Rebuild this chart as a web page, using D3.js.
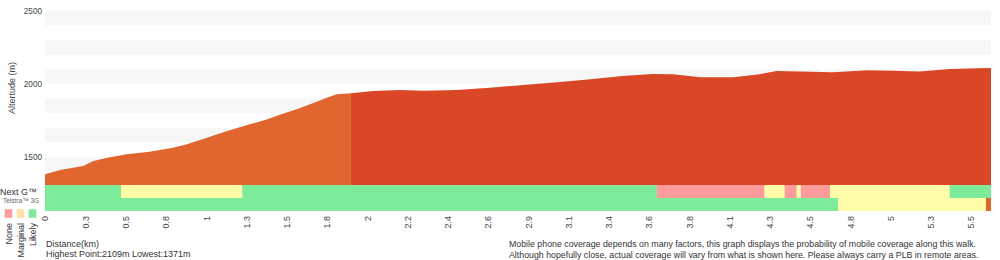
<!DOCTYPE html>
<html>
<head>
<meta charset="utf-8">
<script src="https://cdn.jsdelivr.net/npm/d3@7"></script>
<style>
  body { margin: 0; background: #fff; }
  svg { display: block; font-family: "Liberation Sans", Arial, Helvetica, sans-serif; }
</style>
</head>
<body>
<svg id="chart" width="1000" height="260"></svg>
<script>
"use strict"

// elevation profile: position along the walk (sample index) and altitude in metres
const profilePos  = [0, 1.5, 3.8, 4.8, 6.2, 8.1, 10.4, 12.7, 14.1, 16.1, 18.1, 20.1, 22.1, 23.4, 25.3, 26.6, 28.0, 29.0, 30.4,
                     32.6, 35.3, 37.6, 40.9, 44.2, 47.5, 50.9, 54.2, 57.4, 60.4, 62.4, 65.1, 68.4, 71.0, 72.7, 75.0,
                     78.3, 81.7, 84.3, 86.9, 89.9, 92.6, 94];
const profileElev = [1380, 1409, 1437, 1471, 1494, 1517, 1535, 1562, 1586, 1631, 1677, 1718, 1757, 1791, 1833, 1867, 1905, 1929, 1936,
                     1951, 1958, 1953, 1958, 1974, 1992, 2011, 2032, 2054, 2068, 2066, 2045, 2045, 2066, 2088, 2086,
                     2080, 2093, 2091, 2086, 2102, 2108, 2109];
// where the first (orange) section of the walk ends
const sectionBreak = 30.4;

// x axis tick labels (km), one every 4 samples
const tickLabels = ["0", "0.3", "0.5", "0.8", "1", "1.3", "1.5", "1.8", "2", "2.2", "2.4", "2.6",
                    "2.9", "3.1", "3.4", "3.6", "3.8", "4.1", "4.3", "4.5", "4.8", "5", "5.3", "5.5"];

// coverage rows: segment start positions and coverage level (segment ends where the next starts)
const nextGStarts = [0, 7.55, 19.6, 60.8, 71.5, 73.5, 74.7, 75.1, 78.0, 89.9];
const nextGLevels = ["likely", "marginal", "likely", "none", "marginal", "none", "marginal", "none", "marginal", "likely"];
const g3Starts = [0, 78.8, 93.5];
const g3Levels = ["likely", "marginal", "unknown"];

const legendLevels = ["None", "Marginal", "Likely"];

const coverColor = { none: "#ff9b9b", marginal: "#fffda8", likely: "#7deb9a", unknown: "#e0652f" };
const legendColor = ["#ff9b9b", "#ffe2a6", "#7deb9a"];

const svg = d3.select("#chart");

const x = d3.scaleLinear().domain([0, 94]).range([45, 991]);
const y = d3.scaleLinear().domain([1300, 2500]).range([186, 11]);

//---- background stripes every 100m ----//
const stripes = d3.range(2500, 1300, -200);
svg.append("g").selectAll("rect")
    .data(stripes)
    .join("rect")
    .attr("x", x(0))
    .attr("width", x(94) - x(0))
    .attr("y", d => y(d))
    .attr("height", d => y(d - 100) - y(d))
    .attr("fill", "#f7f7f7");

//---- elevation areas ----//
const points = profilePos.map((p, i) => ({ pos: p, elev: profileElev[i] }));
const area = d3.area()
    .x(d => x(d.pos))
    .y0(y(1300))
    .y1(d => y(d.elev));

svg.append("path")
    .datum(points.filter(d => d.pos >= sectionBreak))
    .attr("d", area)
    .attr("fill", "#da4727");

svg.append("path")
    .datum(points.filter(d => d.pos <= sectionBreak))
    .attr("d", area)
    .attr("fill", "#e0652f");

//---- coverage rows ----//
const row = d3.scaleBand().domain(["nextg", "3g"]).range([185, 211]);

function segments(starts, levels) {
    return starts.map((s, i) => ({
        start: s,
        end: i + 1 < starts.length ? starts[i + 1] : 94,
        level: levels[i]
    }));
}

[["nextg", segments(nextGStarts, nextGLevels)], ["3g", segments(g3Starts, g3Levels)]].forEach(([key, segs]) => {
    svg.append("g").selectAll("rect")
        .data(segs)
        .join("rect")
        .attr("x", d => x(d.start))
        .attr("width", d => x(d.end) - x(d.start))
        .attr("y", row(key))
        .attr("height", row.bandwidth())
        .attr("fill", d => coverColor[d.level]);
});

//---- x axis ----//
const xAxis = d3.axisBottom(x)
    .tickValues(tickLabels.map((t, i) => i * 4))
    .tickFormat((d, i) => tickLabels[i])
    .tickSize(0);

const gx = svg.append("g")
    .attr("transform", "translate(0,214)")
    .call(xAxis);
gx.select(".domain").remove();
gx.selectAll("text")
    .attr("transform", "rotate(-90)")
    .attr("x", -2)
    .attr("y", 0)
    .attr("dy", "0.33em")
    .style("text-anchor", "end")
    .attr("fill", "#444")
    .style("font-size", "9px")
    .style("font-family", "\"Liberation Sans\", Arial, sans-serif");

//---- y axis ----//
const yAxis = d3.axisLeft(y)
    .tickValues([1500, 2000, 2500])
    .tickFormat(d3.format("d"))
    .tickSize(0);
const gy = svg.append("g")
    .attr("transform", "translate(42,0)")
    .call(yAxis);
gy.select(".domain").remove();
gy.selectAll("text")
    .attr("x", 0)
    .attr("fill", "#444")
    .style("font-size", "8.2px")
    .style("font-family", "\"Liberation Sans\", Arial, sans-serif");

svg.append("text")
    .attr("transform", "translate(15,88) rotate(-90)")
    .attr("text-anchor", "middle")
    .attr("font-size", 9)
    .attr("fill", "#444")
    .text("Altertude (m)");

//---- row labels and legend ----//
svg.append("text")
    .attr("x", 0).attr("y", 194.5)
    .attr("font-size", 9)
    .attr("fill", "#333")
    .text("Next G™");

svg.append("text")
    .attr("x", 3).attr("y", 203)
    .attr("font-size", 6.5)
    .attr("fill", "#666")
    .text("Telstra™ 3G");

const legendX = d3.scalePoint().domain(legendLevels).range([8.5, 32.5]);

svg.append("g").selectAll("rect")
    .data(legendLevels)
    .join("rect")
    .attr("x", d => legendX(d) - 4)
    .attr("y", 209)
    .attr("width", 8)
    .attr("height", 9)
    .attr("fill", (d, i) => legendColor[i])
    .attr("stroke", "#fff")
    .attr("stroke-opacity", 0.5)
    .attr("stroke-width", 1);

svg.append("g").selectAll("text")
    .data(legendLevels)
    .join("text")
    .attr("transform", d => "translate(" + (legendX(d) + 3) + ",223) rotate(-90)")
    .attr("text-anchor", "end")
    .attr("font-size", 9)
    .attr("fill", "#333")
    .text(d => d);

//---- footnotes ----//
svg.append("text")
    .attr("x", 46).attr("y", 246.5)
    .attr("font-size", 9)
    .attr("fill", "#333")
    .text("Distance(km)");

svg.append("text")
    .attr("x", 46).attr("y", 257)
    .attr("font-size", 9)
    .attr("fill", "#333")
    .text("Highest Point:2109m Lowest:1371m");

const notes = [
    "Mobile phone coverage depends on many factors, this graph displays the probability of mobile coverage along this walk.",
    "Although hopefully close, actual coverage will vary from what is shown here. Please always carry a PLB in remote areas."
];
svg.append("g").selectAll("text")
    .data(notes)
    .join("text")
    .attr("x", 509)
    .attr("y", (d, i) => 246.5 + i * 11)
    .attr("font-size", 8.8)
    .attr("fill", "#333")
    .text(d => d);
</script>
</body>
</html>
